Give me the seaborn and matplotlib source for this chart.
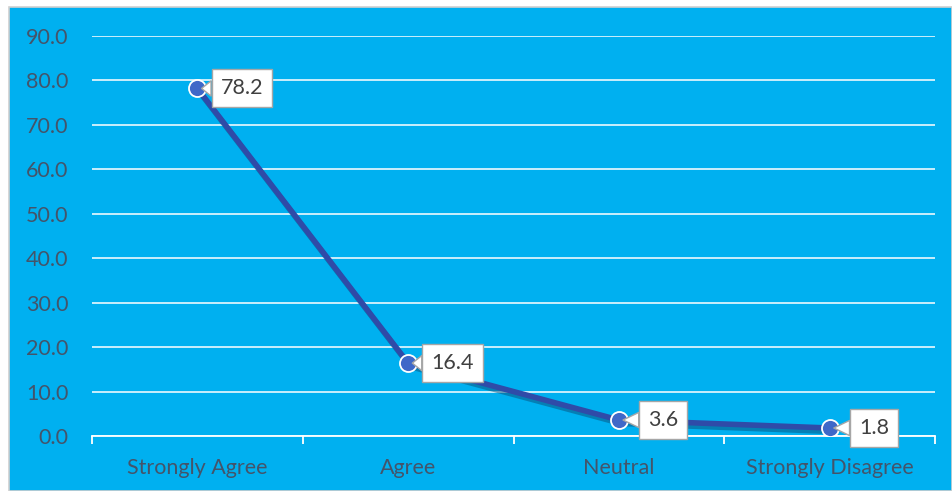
import matplotlib
matplotlib.use("Agg")
import matplotlib.pyplot as plt
import matplotlib.patheffects as pe
from matplotlib.patches import Rectangle
import seaborn as sns
import pandas as pd

categories = ["Strongly Agree", "Agree", "Neutral", "Strongly Disagree"]
values = [78.2, 16.4, 3.6, 1.8]
yticks = [0, 10, 20, 30, 40, 50, 60, 70, 80, 90]

df = pd.DataFrame({"Response": categories, "Percent": values})

sns.set_theme(style="white")
plt.rcParams["font.family"] = ["Lato", "DejaVu Sans"]

W, H = 952, 491
fig = plt.figure(figsize=(W / 100, H / 100), dpi=100, facecolor="white")
bg = Rectangle((9 / W, 0), 1 - 9 / W, (H - 7) / H, transform=fig.transFigure,
               facecolor="#00B0F0", edgecolor="#D0D0D0", linewidth=1.2, zorder=-10)
fig.patches.append(bg)

ax = fig.add_axes([92 / W, (H - 436) / H, (935 - 92) / W, (436 - 36) / H])
ax.set_zorder(1)
ax.set_facecolor("none")

sns.lineplot(data=df, x="Response", y="Percent", ax=ax, color="#2F4BA8",
             linewidth=4.0, zorder=5,
             path_effects=[pe.SimpleLineShadow(offset=(1.5, -2.5), shadow_color="#0A4F7A", alpha=0.5), pe.Normal()])
sns.scatterplot(data=df, x="Response", y="Percent", ax=ax, s=150,
                facecolor="#3F68C8", edgecolor="white", linewidth=1.3, zorder=6)

ax.set_xlim(-0.5, len(categories) - 0.5)
ax.set_ylim(0, 90)
ax.set_yticks(yticks)
ax.set_yticklabels([f"{v:.1f}" for v in yticks])
ax.grid(axis="y", color="white", linewidth=1.3, alpha=0.85)
ax.grid(axis="x", visible=False)
for s in ["top", "right", "left"]:
    ax.spines[s].set_visible(False)
ax.spines["bottom"].set_color("white")
ax.spines["bottom"].set_linewidth(1.3)

ax.set_xticks(range(len(categories)))
ax.set_xticklabels(categories)
ax.set_xticks([i - 0.5 for i in range(len(categories) + 1)], minor=True)
ax.tick_params(axis="x", which="major", length=0, pad=16, labelsize=15.5, labelcolor="#44546A")
ax.tick_params(axis="x", which="minor", length=6, width=1.3, color="white", direction="out", bottom=True)
ax.tick_params(axis="y", length=0, pad=17, labelsize=15.5, labelcolor="#44546A")
ax.set_xlabel("")
ax.set_ylabel("")

for i, v in enumerate(values):
    ax.annotate(f"{v:.1f}", xy=(i, v), xytext=(32, 0), textcoords="offset points",
                ha="center", va="center", fontsize=15.5, color="#404040", zorder=10,
                bbox=dict(boxstyle="square,pad=0.42", fc="white", ec="#A6A6A6", lw=1),
                arrowprops=dict(arrowstyle="wedge,tail_width=0.7,shrink_factor=0.5",
                                fc="white", ec="#A6A6A6", lw=1, shrinkA=0, shrinkB=3))

fig.savefig("out.png", dpi=100, facecolor="white")
